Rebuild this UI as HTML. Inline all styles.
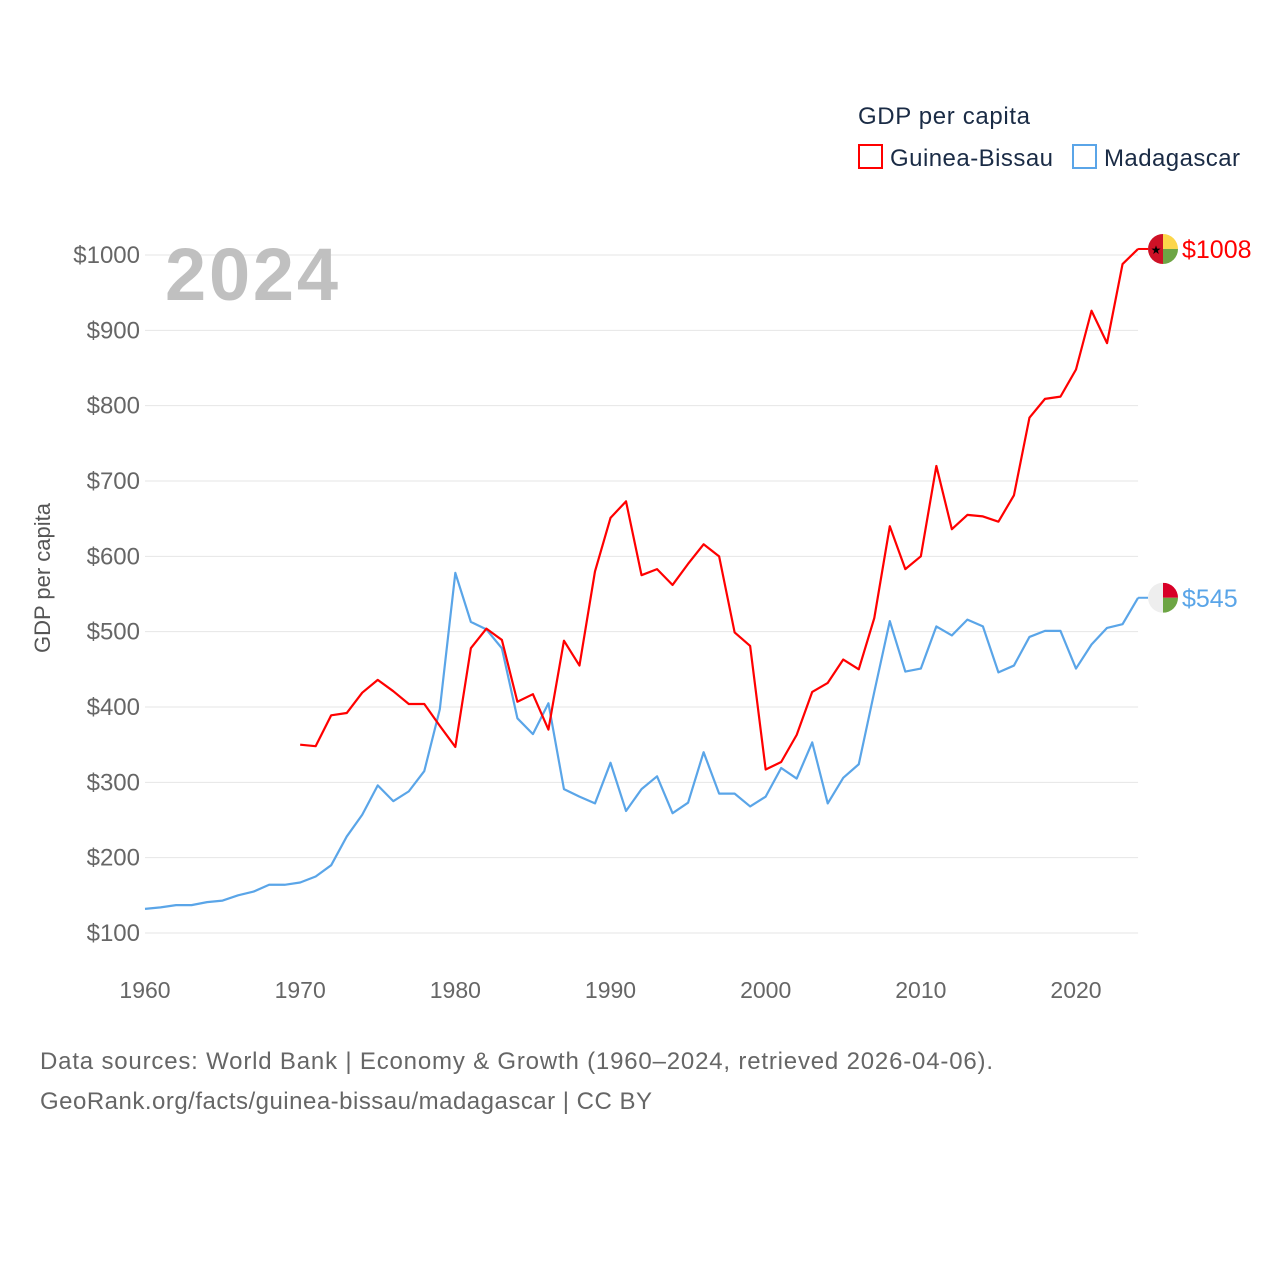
<!DOCTYPE html>
<html><head><meta charset="utf-8"><style>
body{margin:0;background:#fff;font-family:"Liberation Sans",sans-serif}
svg text{font-family:"Liberation Sans",sans-serif}
</style></head><body>
<svg id="chart" width="1280" height="1280">
<g id="grid"></g><g id="yt"></g><g id="xt"></g><g id="lines"></g>
<text x="165" y="300" font-size="74" font-weight="bold" fill="#c0c0c0" textLength="173">2024</text>
<text x="50" y="578" font-size="22" fill="#555" transform="rotate(-90 50 578)" text-anchor="middle">GDP per capita</text>
<text x="858" y="124" font-size="24" fill="#1a2b45" textLength="172">GDP per capita</text>
<g><rect x="859" y="145" width="23" height="23" fill="none" stroke="#ff0000" stroke-width="2"/><text x="890" y="166" font-size="24" fill="#1a2b45" textLength="163">Guinea-Bissau</text></g>
<g><rect x="1073" y="145" width="23" height="23" fill="none" stroke="#5aa5e8" stroke-width="2"/><text x="1104" y="166" font-size="24" fill="#1a2b45" textLength="136">Madagascar</text></g>
<text x="40" y="1069" font-size="24" fill="#666" textLength="953">Data sources: World Bank | Economy &amp; Growth (1960–2024, retrieved 2026-04-06).</text>
<text x="40" y="1109" font-size="24" fill="#666" textLength="612">GeoRank.org/facts/guinea-bissau/madagascar | CC BY</text>
</svg>
<script>
const years=[];for(let y=1960;y<=2024;y++)years.push(y);
const madagascar=[132,134,137,137,141,143,150,155,164,164,167,175,190,228,257,296,275,288,315,397,578,513,503,478,385,364,405,291,281,272,326,262,291,308,259,273,340,285,285,268,281,319,305,353,272,306,324,420,514,447,451,507,495,516,507,446,455,493,501,501,451,483,505,510,545];
const guineaYears=[];for(let y=1970;y<=2024;y++)guineaYears.push(y);
const guinea=[350,348,389,392,419,436,421,404,404,375,347,478,504,489,407,417,370,488,455,580,651,673,575,583,562,590,616,600,499,481,317,327,363,420,432,463,450,518,640,583,600,720,636,655,653,646,681,784,809,812,848,926,883,988,1008];
const yTicks=[100,200,300,400,500,600,700,800,900,1000];
const xTicks=[1960,1970,1980,1990,2000,2010,2020];
const X=y=>145+(y-1960)*931/60, Y=v=>255+(1000-v)*0.75333;
const NS='http://www.w3.org/2000/svg';
function mk(p,t,a){const e=document.createElementNS(NS,t);for(const k in a)e.setAttribute(k,a[k]);p.appendChild(e);return e;}
const g=document.getElementById('grid'),yt=document.getElementById('yt'),xt=document.getElementById('xt'),L=document.getElementById('lines');
yTicks.forEach(v=>{const l=mk(g,'line',{x1:145,x2:X(2024),y1:Y(v),y2:Y(v),stroke:'#e6e6e6','stroke-width':1});


const t=mk(yt,'text',{x:140,y:Y(v)+8,'text-anchor':'end','font-size':24,fill:'#666'});t.textContent='$'+v;

});
xTicks.forEach(y=>{const t=mk(xt,'text',{x:X(y),y:998,'text-anchor':'middle','font-size':23,fill:'#666'});t.textContent=y;

});
function line(xs,vs,c,name){const p=mk(L,'polyline',{points:xs.map((y,i)=>X(y)+','+Y(vs[i])).join(' '),fill:'none',stroke:c,'stroke-width':2.2,'stroke-linejoin':'round'});

}
line(years,madagascar,'#5aa5e8','madagascar-line');
line(guineaYears,guinea,'#ff0000','guinea-bissau-line');
function endLabel(v,c,name,flag){const y=Y(v),x=X(2024);mk(L,'line',{x1:x,x2:1148,y1:y,y2:y,stroke:c,'stroke-width':2});
const fg=mk(L,'g',{});


const cx=1163,r=15;
mk(fg,'clipPath',{id:'c'+name}).appendChild(document.createElementNS(NS,'circle')).setAttribute('r',r);
fg.querySelector('circle').setAttribute('cx',cx);fg.querySelector('circle').setAttribute('cy',y);
const h=mk(fg,'g',{'clip-path':'url(#c'+name+')'});
if(flag==='gw'){mk(h,'rect',{x:cx-r,y:y-r,width:r,height:2*r,fill:'#ce1126'});mk(h,'rect',{x:cx,y:y-r,width:r,height:r,fill:'#fcd64a'});mk(h,'rect',{x:cx,y:y,width:r,height:r,fill:'#6da544'});
const s=mk(fg,'text',{x:cx-7,y:y+5,'font-size':12,'text-anchor':'middle',fill:'#000'});s.textContent='★';}
else{mk(h,'rect',{x:cx-r,y:y-r,width:r,height:2*r,fill:'#eeeeee'});mk(h,'rect',{x:cx,y:y-r,width:r,height:r,fill:'#d80027'});mk(h,'rect',{x:cx,y:y,width:r,height:r,fill:'#6da544'});}
const t=mk(L,'text',{x:1182,y:y+9,'font-size':25,fill:c});t.textContent='$'+v;

}
endLabel(guinea[guinea.length-1],'#ff0000','guinea-bissau','gw');
endLabel(madagascar[madagascar.length-1],'#5aa5e8','madagascar','mg');
</script>
</body></html>
